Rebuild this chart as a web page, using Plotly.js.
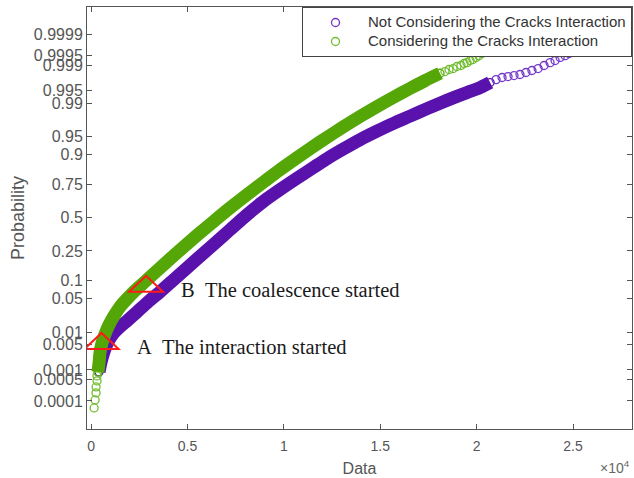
<!DOCTYPE html>
<html><head><meta charset="utf-8">
<script src="https://cdn.plot.ly/plotly-3.0.1.min.js"></script>
<style>html,body{margin:0;padding:0;background:#fff;}#chart{width:634px;height:478px;}</style>
</head><body><div id="chart"></div>
<script>
// ---- data (x = Data, p = probability) ----
const probTicks = [0.0001,0.0005,0.001,0.005,0.01,0.05,0.1,0.25,0.5,0.75,0.9,0.95,0.99,0.995,0.999,0.9995,0.9999];
const probTickText = ['0.0001','0.0005','0.001','0.005','0.01','0.05','0.1','0.25','0.5','0.75','0.9','0.95','0.99','0.995','0.999','0.9995','0.9999'];
const xTickVals = [0,5000,10000,15000,20000,25000];
const xTickText = ['0','0.5','1','1.5','2','2.5'];

const purpleBandX = [415,520,670,880,1140,1450,1870,2390,2960,3580,4250,4980,5650,6330,7210,8090,8920,9800,10690,11520,12240,13070,13950,14830,15660,16550,17430,18100,18880,19500,20180,20700];
const purpleBandP = [0.000874,0.00171,0.00323,0.00588,0.00919,0.01269,0.0182,0.0280,0.0439,0.0663,0.1020,0.1548,0.2170,0.2915,0.4036,0.5243,0.6275,0.7153,0.7890,0.8452,0.8848,0.9180,0.9435,0.9606,0.9720,0.9804,0.9866,0.9900,0.99284,0.99447,0.99588,0.99697];
const purpleTailX = [21010,21320,21630,21940,22250,22560,22870,23190,23500,23810,24070,24330,24590,24790,25000,25360,25780,26190,26660];
const purpleTailP = [0.99748,0.99779,0.99792,0.99805,0.99818,0.99840,0.99860,0.99877,0.99900,0.99918,0.99929,0.99943,0.99950,0.99957,0.99963,0.99972,0.99981,0.99986,0.99990];

const greenLowX = [160,210,260,260,310,310];
const greenLowP = [0.0000562,0.000108,0.000188,0.000296,0.000462,0.000661];
const greenBandX = [360,420,470,570,730,930,1190,1500,1870,2330,2850,3420,4100,4880,5650,6430,7210,8090,9030,9800,10690,11460,12240,13070,13950,14830,15660,16550,17320,18100];
const greenBandP = [0.000874,0.00171,0.00323,0.00553,0.00919,0.0148,0.0232,0.0352,0.0499,0.0717,0.1002,0.1412,0.2013,0.2854,0.3802,0.4797,0.5789,0.6806,0.7728,0.8349,0.8887,0.9235,0.9487,0.9671,0.9800,0.9880,0.99264,0.99568,0.99731,0.99832];
const greenTailX = [18360,18570,18780,18980,19190,19350,19500,19660,19810,19970,20120,20280,20490,20750,21060,21420,21840];
const greenTailP = [0.99850,0.99869,0.99877,0.99893,0.99900,0.99913,0.99918,0.99929,0.99934,0.99943,0.99950,0.99957,0.99966,0.99975,0.99981,0.99986,0.99990];

const seriesNames = ['Not Considering the Cracks Interaction','Considering the Cracks Interaction'];

const eventX = [545, 2853];
const eventP = [0.00387, 0.0663];
const eventText = ['A\u00a0\u00a0The interaction started','B\u00a0\u00a0The coalescence started'];

// ---- normal probability scale (inverse normal CDF) ----
function probit(p){
  const a=[-3.969683028665376e+01,2.209460984245205e+02,-2.759285104469687e+02,1.383577518672690e+02,-3.066479806614716e+01,2.506628277459239e+00];
  const b=[-5.447609879822406e+01,1.615858368580409e+02,-1.556989798598866e+02,6.680131188771972e+01,-1.328068155288572e+01];
  const c=[-7.784894002430293e-03,-3.223964580411365e-01,-2.400758277161838e+00,-2.549671348193817e+00,4.374664141464968e+00,2.938163982698783e+00];
  const d=[7.784695709041462e-03,3.224671290700398e-01,2.445134137142996e+00,3.754408661907416e+00];
  const pl=0.02425, ph=1-pl; let q,r;
  if(p<pl){q=Math.sqrt(-2*Math.log(p));return (((((c[0]*q+c[1])*q+c[2])*q+c[3])*q+c[4])*q+c[5])/((((d[0]*q+d[1])*q+d[2])*q+d[3])*q+1);}
  if(p<=ph){q=p-0.5;r=q*q;return (((((a[0]*r+a[1])*r+a[2])*r+a[3])*r+a[4])*r+a[5])*q/(((((b[0]*r+b[1])*r+b[2])*r+b[3])*r+b[4])*r+1);}
  q=Math.sqrt(-2*Math.log(1-p));return -(((((c[0]*q+c[1])*q+c[2])*q+c[3])*q+c[4])*q+c[5])/((((d[0]*q+d[1])*q+d[2])*q+d[3])*q+1);
}

const purpleBand = '#5a12ad', purpleRing = '#7336c9';
const greenBand = '#55a607', greenRing = '#6fbd2f';
const sans = 'Liberation Sans, Arial, sans-serif';
const legendName = s => '<span style="font-size:15px">' + s + '</span>';

const traces = [
  {x: purpleBandX, y: purpleBandP.map(probit), mode:'lines+markers', showlegend:false, hoverinfo:'skip',
   line:{color:purpleBand, width:13, shape:'spline', smoothing:0.8}, marker:{symbol:'circle-open', size:8, color:purpleBand, line:{width:1.3}}},
  {x: purpleTailX, y: purpleTailP.map(probit), mode:'markers', name: legendName(seriesNames[0]),
   marker:{symbol:'circle-open', size:8, color:purpleRing, line:{width:1.3}}},
  {x: greenBandX, y: greenBandP.map(probit), mode:'lines+markers', showlegend:false, hoverinfo:'skip',
   line:{color:greenBand, width:13, shape:'spline', smoothing:0.8}, marker:{symbol:'circle-open', size:8, color:greenBand, line:{width:1.3}}},
  {x: greenTailX, y: greenTailP.map(probit), mode:'markers', name: legendName(seriesNames[1]),
   marker:{symbol:'circle-open', size:8, color:greenRing, line:{width:1.3}}},
  {x: greenLowX, y: greenLowP.map(probit), mode:'markers', showlegend:false,
   marker:{symbol:'circle-open', size:8, color:greenRing, line:{width:1.3}}}
];

const shapes = eventX.map((x,i)=>({
  type:'path', xref:'x', yref:'y', xsizemode:'pixel', ysizemode:'pixel',
  xanchor:x, yanchor:probit(eventP[i]), path:'M-17,0 L17,0 L0,16 Z',
  line:{color:'#ff1a1a', width:2}, fillcolor:'rgba(0,0,0,0)'
}));

const annotations = eventX.map((x,i)=>({
  x:x, y:probit(eventP[i]), xref:'x', yref:'y', text:eventText[i], showarrow:false,
  xanchor:'left', yanchor:'middle', xshift:33, yshift:2,
  font:{family:'Liberation Serif, Times New Roman, serif', size:20.5, color:'#1a1a1a'}
}));
annotations.push({x:1, y:-0.09, xref:'paper', yref:'paper', text:'\u00d710<sup>4</sup>', showarrow:false,
  xanchor:'right', yanchor:'middle', font:{family:sans, size:14, color:'#666'}});

const axisCommon = {showline:true, linecolor:'#555', linewidth:1, mirror:'ticks', ticks:'inside', ticklen:5,
  tickcolor:'#555', showgrid:false, zeroline:false};

const layout = {
  width:634, height:478, margin:{l:87, r:2, t:7, b:49},
  paper_bgcolor:'#fff', plot_bgcolor:'#fff',
  xaxis: Object.assign({}, axisCommon, {range:[-210, 28060], tickmode:'array', tickvals:xTickVals, ticktext:xTickText,
    ticklabelstandoff:4,
    tickfont:{family:sans, size:14, color:'#555'}, title:{text:'Data', font:{family:sans, size:16, color:'#555'}, standoff:10}}),
  yaxis: Object.assign({}, axisCommon, {range:[-4.289, 4.278], tickmode:'array', tickvals:probTicks.map(probit), ticktext:probTickText,
    tickfont:{family:sans, size:16, color:'#555'}, title:{text:'Probability', font:{family:sans, size:18, color:'#555'}, standoff:4}}),
  legend:{x:1, xanchor:'right', y:1, yanchor:'top', bgcolor:'#fff', bordercolor:'#444', borderwidth:1,
    font:{family:sans, size:11, color:'#333'}, itemwidth:55},
  shapes: shapes,
  annotations: annotations
};

Plotly.newPlot('chart', traces, layout, {displayModeBar:false, staticPlot:true});
</script>
</body></html>
